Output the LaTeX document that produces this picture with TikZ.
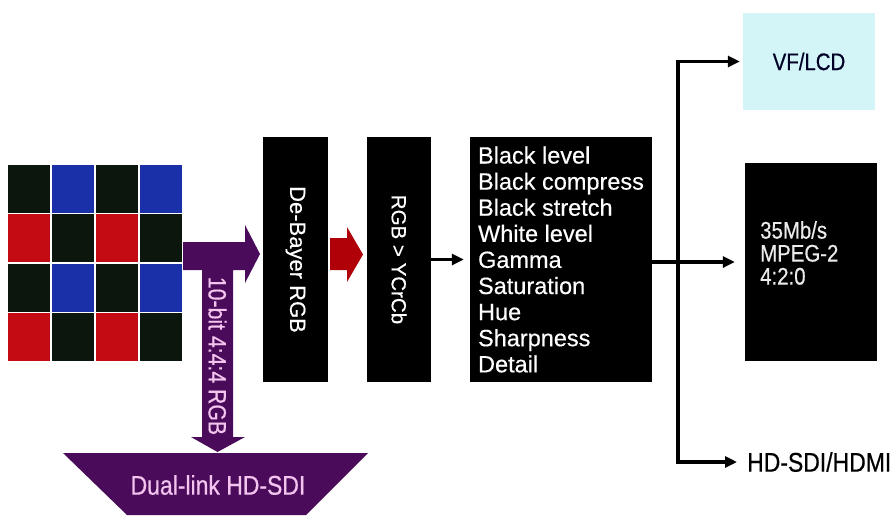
\documentclass[tikz,border=0pt]{standalone}
\usepackage{fontspec}
\setmainfont[FakeBold=0.4]{Liberation Sans}
\newfontfamily\narrowsf[FakeStretch=0.85, FakeBold=0.5]{Liberation Sans}
\usetikzlibrary{arrows.meta}
\definecolor{bayerk}{HTML}{0B160D}
\definecolor{bayerb}{HTML}{1A30A8}
\definecolor{bayerr}{HTML}{C40A12}
\definecolor{hdpurple}{HTML}{4A0B5A}
\definecolor{hdpink}{HTML}{F2C4EE}
\definecolor{vfcyan}{HTML}{D4F5F8}
\definecolor{redarr}{HTML}{B00008}
\tikzstyle{blk}=[fill=black, text=white, inner sep=0pt]
\tikzstyle{wire}=[-, line width=3.5pt]

\begin{document}
\begin{tikzpicture}[x=1pt, y=-1pt, >={Triangle[length=12pt, width=11pt]}]
    \useasboundingbox (0, 0) rectangle (893, 515);

    \foreach \clr [count=\i from 0] in {bayerk,bayerb,bayerk,bayerb, bayerr,bayerk,bayerr,bayerk, bayerk,bayerb,bayerk,bayerb, bayerr,bayerk,bayerr,bayerk} {
        \pgfmathtruncatemacro\col{mod(\i,4)}
        \pgfmathtruncatemacro\row{div(\i,4)}
        \filldraw [fill=\clr, draw=white, line width=1.2pt] ({7+44*\col}, {164+49.5*\row}) rectangle ++(44, 49.5);
    }

    \fill [hdpurple] (183, 242) -- (245, 242) -- (245, 225) -- (260, 254) -- (245, 283) -- (245, 270)
        -- (233, 270) -- (233, 437) -- (245, 437) -- (217.5, 452) -- (191, 437) -- (202, 437)
        -- (202, 270) -- (183, 270) -- cycle;
    \fill [hdpurple] (63, 453) -- (368, 453) -- (306, 515) -- (127, 515) -- cycle;
    \node [rotate=-90, text=hdpink, font=\narrowsf\fontsize{25}{27}\selectfont] (bitdepth) at (217.5, 356) {10-bit 4:4:4 RGB};
    \node [text=hdpink, font=\narrowsf\fontsize{27}{30}\selectfont] (duallink) at (218, 485) {Dual-link HD-SDI};

    \node [blk, rotate=-90, minimum width=245pt, minimum height=65pt, font=\fontsize{22}{24}\selectfont] (debayer) at (295.5, 259.5) {De-Bayer RGB};
    \fill [redarr] (330, 238) -- (347, 238) -- (347, 227) -- (363, 254.5) -- (347, 282) -- (347, 270) -- (330, 270) -- cycle;
    \node [blk, rotate=-90, minimum width=245pt, minimum height=64pt, font=\fontsize{20.5}{22}\selectfont] (ycrcb) at (399, 259.5) {RGB > YCrCb};
    \node [blk, minimum width=182pt, minimum height=245pt, align=left, font=\fontsize{23.5}{26.1}\selectfont] (params) at (561, 259.5)
        {Black level\\Black compress\\Black stretch\\White level\\Gamma\\Saturation\\Hue\\Sharpness\\Detail};

    \node [fill=vfcyan, text=black!85!blue, minimum width=132pt, minimum height=97pt, font=\narrowsf\fontsize{24}{26}\selectfont] (vflcd) at (809, 61.5) {VF/LCD};
    \node [blk, minimum width=132pt, minimum height=198pt] (mpeg) at (811, 262) {};
    \node [anchor=west, align=left, text=white!92!black, inner sep=0pt, font=\narrowsf\fontsize{24}{23}\selectfont] (mpegtxt) at (760, 253) {35Mb/s\\MPEG-2\\4:2:0};
    \node [anchor=west, inner sep=2pt, font=\narrowsf\fontsize{27}{30}\selectfont] (hdsdi) at (745, 462) {HD-SDI/HDMI};

    \coordinate (split) at (678, 262);
    \draw [wire, ->, shorten >=6pt] (ycrcb.north) -- (params.west);
    \draw [wire, ->, shorten >=10pt] (params.east |- split) -- (mpeg.west);
    \draw [wire, ->, shorten >=3pt] (split) |- (vflcd.west);
    \draw [wire, ->, shorten >=8pt] (split) |- (hdsdi.west);
\end{tikzpicture}
\end{document}
